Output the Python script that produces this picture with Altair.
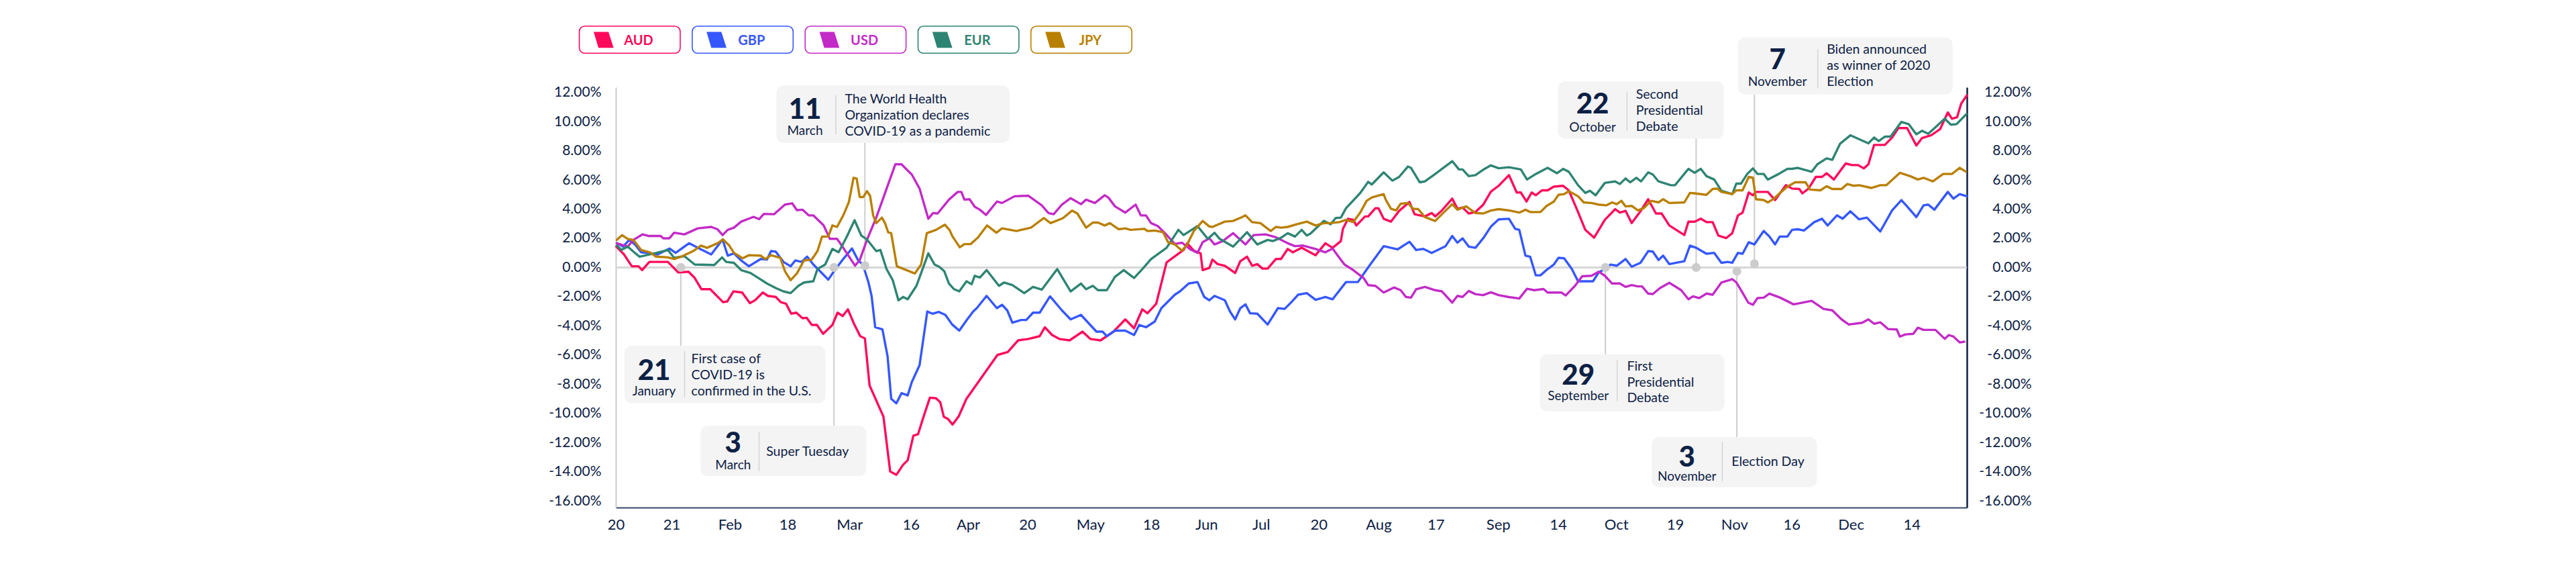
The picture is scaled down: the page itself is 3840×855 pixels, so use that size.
import json
import altair as alt
import pandas as pd

# ------------------------------------------------------------------ data
CURRENCIES = ["AUD", "GBP", "USD", "EUR", "JPY"]
COLORS = ["#ff0a5a", "#3557ff", "#c32ac7", "#2e8473", "#b97f00"]

# (trading-day index in 2020, cumulative % change)
AUD = [(0.1,1.43),(1.6,0.89),(3.1,0.08),(4.4,0.08),(5.1,-0.18),(6.5,0.38),(10.1,0.38),(12.1,-0.34),(14.1,-0.29),(15.3,-0.72),(16.6,-1.49),(18.3,-1.49),(20.8,-2.38),(21.6,-2.33),(22.8,-1.64),(24.5,-1.72),(26.0,-2.44),(27.0,-2.25),(28.5,-1.72),(29.5,-1.95),(31.0,-2.02),(32.0,-2.38),(33.0,-2.48),(34.0,-3.17),(35.0,-3.1),(36.2,-3.48),(37.0,-3.45),(38.0,-3.94),(39.0,-3.94),(40.2,-4.55),(42.0,-3.94),(43.0,-3.1),(44.0,-3.33),(45.0,-2.87),(46.2,-3.87),(47.4,-4.71),(48.3,-4.86),(49.2,-8.08),(51.9,-10.23),(53.2,-13.99),(54.4,-14.22),(55.7,-13.53),(56.6,-13.22),(57.7,-11.53),(58.6,-11.44),(59.6,-10.31),(60.9,-8.93),(62.1,-8.97),(62.9,-9.23),(63.6,-10.23),(64.4,-10.38),(65.3,-10.77),(66.5,-10.2),(68,-9.0),(70,-8.0),(72,-7.0),(74,-6.0),(76,-5.8),(78,-5.0),(80,-4.9),(82.2,-4.71),(83.2,-4.1),(84.6,-4.63),(86,-4.9),(88,-5.0),(90.5,-4.4),(92,-4.9),(94,-5.0),(96.5,-4.4),(98.8,-3.56),(100.5,-4.17),(102.1,-2.87),(103.1,-3.14),(104.8,-2.48),(106.8,0.35),(109.1,0.94),(110.1,1.2),(110.8,1.66),(112.1,1.15),(113.4,0.97),(113.8,-0.18),(115.1,-0.03),(115.7,0.54),(116.7,0.23),(118.1,0.12),(120.1,-0.38),(121.1,0.43),(122.4,0.74),(123.4,0.12),(124.4,0.23),(125.4,-0.08),(126.4,-0.08),(128.0,0.58),(129.0,0.58),(130.3,1.27),(131.3,1.04),(133.0,1.35),(135.7,0.84),(137.6,1.66),(139.0,1.35),(140.6,1.81),(141.0,2.65),(142.0,3.34),(143.0,3.27),(143.6,2.88),(145.3,3.5),(145.9,3.5),(147.3,4.06),(147.9,4.06),(148.9,3.34),(150.3,3.14),(151.9,3.88),(153.9,4.49),(154.9,3.65),(156.9,3.5),(158.2,3.73),(158.9,3.5),(160.2,3.91),(162.2,4.72),(163.2,4.03),(164.2,4.11),(165.4,3.7),(166.7,3.8),(168.2,4.3),(169.7,5.2),(171.2,5.6),(173.2,6.33),(174.7,5.14),(175.5,5.14),(176.6,4.52),(177.6,5.14),(178.4,4.95),(179.6,5.29),(180.7,5.29),(181.9,5.54),(183.7,5.6),(184.8,5.29),(186.6,3.8),(188.0,2.58),(189.7,2.04),(191.8,3.27),(193.8,4.0),(194.7,3.76),(195.8,3.88),(197.0,3.04),(198.7,3.85),(200.2,4.68),(201.7,3.7),(202.8,3.7),(204.3,2.88),(207.2,2.22),(208.0,3.14),(209.2,3.14),(210.4,3.34),(211.5,3.11),(212.7,3.11),(213.8,2.19),(215.3,2.01),(216.5,2.35),(217.6,3.57),(218.5,3.76),(219.7,5.14),(220.5,4.95),(221.1,5.18),(223.4,5.18),(224.8,4.62),(226.9,5.64),(228.1,5.41),(229.5,5.38),(230.1,5.08),(231.3,5.41),(232.7,6.21),(233.9,6.21),(234.8,6.46),(236.2,6.03),(238.5,7.13),(239.7,7.02),(240.9,7.02),(242.0,6.79),(242.9,7.07),(244.0,8.4),(246.1,8.4),(247.5,8.91),(248.7,9.56),(250.4,9.56),(252.2,8.36),(253.3,8.87),(255.1,9.07),(256.8,9.48),(258.3,10.63),(259.1,10.2),(260.1,10.3),(260.9,11.24),(262.0,11.8)]

GBP = [(0.2,1.66),(1.4,1.43),(2.6,1.89),(3.7,1.58),(4.9,1.04),(6.9,0.97),(8.1,0.89),(10.4,1.3),(11.6,1.0),(14.2,1.66),(16.2,1.3),(18.5,0.89),(20.7,1.92),(21.7,0.81),(22.9,0.97),(24.3,0.48),(25.8,0.08),(28.1,0.58),(29.3,0.54),(30.1,1.12),(31.0,1.09),(32.5,0.38),(33.9,0.08),(34.8,0.48),(36.0,0.38),(37.1,0.74),(38.3,0.2),(39.7,-0.29),(41.2,-0.84),(42.3,-0.26),(44.1,0.58),(45.8,1.3),(47.0,0.48),(47.9,0.2),(49.0,-1.03),(49.6,-1.95),(50.3,-4.1),(51.7,-4.25),(52.7,-6.09),(53.4,-9.0),(54.4,-9.31),(55.4,-8.62),(56.6,-8.77),(57.4,-7.85),(58.9,-6.7),(60.4,-3.02),(61.4,-3.17),(62.6,-3.05),(63.9,-3.25),(65.2,-3.9),(66.6,-4.33),(68.0,-3.63),(69.3,-3.02),(70.0,-2.79),(71.9,-1.95),(73.9,-2.79),(74.9,-2.56),(75.9,-2.94),(76.9,-3.79),(78.6,-3.6),(79.6,-3.6),(80.9,-3.1),(82.2,-3.1),(84.2,-1.98),(86.5,-2.94),(88.2,-3.56),(90.2,-3.25),(93.2,-4.4),(94.4,-4.4),(95.2,-4.71),(96.8,-4.33),(98.8,-4.33),(100.5,-4.63),(101.5,-3.94),(102.8,-4.1),(104.5,-3.71),(105.8,-2.79),(108.4,-1.87),(109.4,-1.64),(111.1,-1.1),(112.8,-1.0),(114.1,-2.02),(115.1,-2.25),(116.1,-1.95),(118.1,-2.25),(119.1,-3.02),(120.1,-3.56),(121.1,-2.79),(122.1,-2.53),(123.0,-3.14),(124.4,-3.17),(126.4,-3.91),(128.4,-2.79),(129.7,-2.84),(131.0,-2.38),(132.3,-1.87),(134.0,-1.76),(135.7,-2.22),(137.6,-2.02),(139.0,-2.18),(141.6,-1.0),(143.9,-1.0),(146.3,0.2),(148.9,1.46),(151.6,1.24),(153.9,1.76),(155.2,1.2),(156.6,1.27),(158.2,1.0),(160.9,1.46),(162.2,2.16),(163.2,1.7),(164.2,2.0),(165.4,1.43),(166.7,1.35),(168.2,2.0),(169.7,2.8),(171.2,3.3),(173.2,3.34),(174.4,2.65),(175.2,2.58),(176.4,0.81),(177.3,0.74),(178.4,-0.54),(179.3,-0.54),(180.7,-0.11),(181.9,0.2),(182.8,0.66),(183.9,0.63),(185.4,-0.11),(186.6,-0.95),(188.6,-0.95),(189.5,-0.95),(190.6,-0.34),(191.8,-0.11),(192.9,0.2),(194.1,0.12),(195.8,0.58),(197.0,0.05),(198.7,0.32),(200.2,1.12),(201.1,1.09),(202.2,0.51),(203.1,0.81),(204.3,0.23),(207.2,0.43),(208.3,1.5),(209.5,1.35),(211.5,0.94),(213.0,1.0),(214.4,0.32),(215.6,0.38),(216.5,0.32),(217.6,1.0),(218.5,0.94),(219.7,1.73),(220.8,1.58),(222.6,2.5),(223.7,2.12),(224.8,1.58),(225.7,2.12),(227.2,2.12),(228.1,2.58),(229.2,2.62),(230.4,2.53),(232.4,3.11),(233.9,3.34),(235.0,2.88),(236.8,3.57),(237.9,3.34),(239.4,3.85),(241.1,3.3),(242.6,3.42),(245.2,2.47),(247.5,3.91),(249.3,4.62),(250.4,4.19),(252.2,3.45),(253.6,4.26),(254.5,4.31),(255.7,3.96),(258.3,5.18),(259.4,4.72),(260.6,5.03),(262.0,4.88)]

USD = [(0.2,1.66),(2.3,1.43),(3.4,1.89),(5.2,2.27),(6.3,2.16),(8.7,2.16),(9.2,2.0),(10.4,2.0),(11.3,2.38),(13.3,2.27),(15.9,2.68),(18.5,2.78),(19.7,2.62),(20.7,2.22),(21.7,2.58),(22.9,2.73),(24.3,3.14),(26.7,3.47),(27.8,3.31),(28.7,3.67),(30.7,3.65),(32.8,4.31),(34.2,4.40),(35.1,3.93),(36.2,3.96),(37.4,3.57),(38.3,3.57),(40.3,2.88),(41.5,1.96),(42.9,1.96),(44.1,1.35),(46.4,0.12),(47.3,0.51),(48.7,1.89),(50.5,3.42),(54.2,7.07),(55.4,7.07),(57.4,6.37),(58.9,5.41),(60.6,3.34),(61.5,3.73),(62.4,3.70),(64.6,4.65),(66.3,5.18),(67.0,5.18),(67.6,4.65),(68.6,4.68),(69.6,4.16),(70.6,3.96),(71.8,3.6),(73.9,4.52),(74.9,4.42),(77.3,4.88),(80.0,4.92),(82.6,4.26),(83.9,3.73),(84.9,3.65),(86.5,4.31),(88.2,4.75),(90.2,4.34),(91.2,4.65),(92.9,4.42),(94.8,4.95),(95.5,4.8),(96.8,4.19),(98.8,3.76),(100.8,4.31),(101.8,3.57),(102.8,3.57),(103.8,3.04),(105.1,2.84),(106.5,2.35),(108.4,1.61),(109.8,1.7),(111.4,1.24),(112.8,1.0),(113.8,1.73),(115.1,2.0),(116.1,1.58),(117.7,1.81),(119.7,2.35),(122.1,1.58),(123.7,2.22),(126.0,2.27),(128.0,2.07),(130.3,1.66),(131.7,1.46),(133.3,1.5),(135.7,1.27),(137.6,1.04),(139.0,1.3),(140.0,0.81),(141.3,0.2),(143.0,-0.18),(145.0,-0.72),(145.9,-1.21),(147.3,-1.26),(148.9,-1.72),(150.9,-1.37),(152.2,-1.56),(153.2,-2.02),(154.2,-2.07),(155.2,-1.49),(156.9,-1.33),(158.9,-1.56),(160.2,-1.64),(162.2,-2.41),(163.2,-1.95),(164.2,-2.02),(165.4,-1.61),(166.7,-1.83),(168.2,-1.9),(169.7,-1.7),(171.2,-1.9),(173.2,-2.03),(175.2,-2.13),(176.7,-1.46),(178.1,-1.56),(179.9,-1.48),(180.7,-1.72),(183.4,-1.72),(184.2,-1.92),(186.0,-1.26),(187.4,-0.6),(189.2,-0.57),(190.6,-0.29),(191.8,-0.57),(193.2,-1.1),(194.7,-1.1),(195.8,-1.33),(197.0,-1.21),(198.2,-1.3),(199.0,-1.3),(200.2,-1.79),(201.1,-1.82),(202.5,-1.41),(204.3,-1.05),(206.6,-1.56),(208.0,-2.18),(208.9,-1.98),(210.1,-2.1),(211.5,-1.79),(212.7,-1.87),(214.4,-1.03),(216.5,-0.8),(217.3,-1.03),(218.2,-1.55),(219.6,-2.41),(220.5,-2.56),(221.4,-2.1),(222.6,-2.07),(223.7,-1.79),(225.8,-2.07),(228.4,-2.53),(231.9,-2.29),(234.2,-2.84),(235.9,-2.94),(237.7,-3.56),(239.1,-3.91),(241.7,-3.79),(242.9,-3.56),(244.0,-3.86),(245.2,-3.76),(246.7,-4.22),(248.4,-4.25),(249.0,-4.74),(250.1,-4.59),(251.6,-4.55),(252.5,-4.13),(253.6,-4.28),(255.9,-4.28),(257.7,-4.89),(258.5,-4.63),(259.4,-4.74),(260.6,-5.14),(261.5,-5.09)]

EUR = [(0.2,1.5),(1.1,1.2),(2.3,1.43),(3.4,1.09),(4.6,0.74),(7.5,0.97),(10.1,1.2),(11.3,0.66),(13.3,0.78),(15.3,0.2),(19.1,0.17),(20.6,0.69),(21.4,0.38),(22.9,0.32),(24.3,-0.18),(26.1,-0.38),(27.5,-0.69),(29.3,-1.1),(31.0,-1.41),(32.5,-1.64),(33.9,-1.76),(35.4,-1.26),(36.5,-1.03),(38.3,-0.95),(39.1,-0.11),(40.6,0.2),(42.0,1.27),(43.2,1.04),(44.7,2.04),(46.3,3.24),(47.6,2.19),(48.7,1.92),(50.5,1.12),(51.3,1.2),(52.5,-0.11),(53.7,-0.87),(54.8,-2.25),(55.7,-2.02),(56.6,-2.18),(58.3,-1.26),(60.6,0.97),(61.8,0.2),(62.7,0.05),(63.7,-0.26),(64.6,-1.1),(65.6,-1.49),(66.6,-1.64),(68.0,-0.95),(69.0,-1.15),(69.6,-0.57),(70.6,-0.69),(71.9,-0.18),(74.3,-1.26),(75.3,-1.03),(76.9,-1.21),(79.2,-1.76),(80.9,-1.33),(82.6,-1.52),(85.6,-0.11),(88.2,-1.64),(90.2,-1.1),(91.2,-1.49),(92.5,-1.26),(93.5,-1.56),(95.2,-1.56),(96.8,-0.64),(98.5,-0.18),(100.5,-0.72),(102.1,-0.11),(103.8,0.58),(106.8,1.35),(109.1,2.58),(110.1,2.22),(112.8,2.84),(114.8,1.96),(116.1,2.38),(117.1,1.96),(119.7,1.43),(122.4,2.42),(124.4,1.58),(126.4,1.89),(127.4,1.81),(129.0,2.04),(130.3,2.35),(131.7,2.12),(133.0,2.58),(134.0,2.19),(134.7,2.32),(137.3,3.19),(138.6,2.96),(139.6,3.39),(140.6,3.42),(141.6,4.06),(144.3,5.08),(145.9,5.87),(146.6,5.69),(148.9,6.52),(150.6,5.95),(151.9,6.21),(153.6,6.92),(154.2,6.83),(155.9,5.84),(156.9,5.9),(158.9,6.41),(162.2,7.29),(163.5,6.72),(164.2,6.72),(165.4,6.26),(166.7,6.33),(168.2,6.7),(169.7,7.0),(171.2,6.8),(173.2,6.87),(175.5,6.72),(176.7,6.03),(178.4,6.41),(180.7,6.83),(182.5,6.46),(183.7,6.76),(184.8,6.56),(186.6,5.64),(188.0,5.11),(188.9,5.26),(190.0,4.95),(191.8,5.8),(193.8,5.9),(194.7,5.72),(195.8,6.1),(196.7,5.84),(197.9,6.15),(198.8,5.9),(200.2,6.52),(201.1,6.37),(202.2,5.9),(204.6,5.64),(205.4,5.64),(208.0,6.76),(209.2,6.49),(210.4,6.76),(211.5,6.26),(213.0,6.03),(214.4,5.26),(216.5,5.03),(217.3,5.75),(218.2,5.75),(219.4,6.41),(220.5,6.79),(221.4,6.41),(222.6,6.41),(223.4,6.03),(225.5,6.41),(227.2,6.76),(228.1,6.76),(229.2,6.83),(231.9,6.56),(233.0,7.07),(234.8,7.48),(235.9,7.38),(237.4,8.48),(239.4,9.06),(242.9,8.51),(244.0,8.91),(244.9,8.67),(246.1,8.97),(247.2,8.97),(249.3,9.98),(250.7,9.83),(252.2,9.13),(253.3,9.37),(254.5,9.17),(256.2,9.71),(257.7,10.2),(258.9,9.79),(260.0,9.83),(261.9,10.51)]

JPY = [(0.2,1.89),(1.2,2.22),(2.3,1.96),(3.4,1.89),(4.9,1.2),(6.6,1.04),(7.8,0.74),(10.1,0.69),(11.3,0.58),(12.7,0.74),(15.0,1.12),(16.5,1.5),(17.7,1.35),(19.7,1.66),(20.8,1.92),(22.0,1.5),(22.9,1.0),(24.6,0.63),(25.8,0.84),(28.1,0.81),(29.0,0.58),(30.1,0.84),(31.9,0.66),(32.8,-0.26),(33.9,-0.87),(35.1,-0.41),(36.5,0.48),(38.0,0.54),(39.1,1.12),(40.0,2.12),(41.2,2.12),(42.0,2.88),(42.9,2.78),(44.1,3.57),(45.2,4.49),(46.1,6.15),(46.7,6.10),(47.3,4.83),(48.0,4.83),(48.7,5.23),(49.3,4.92),(49.9,3.57),(50.5,3.04),(51.6,3.42),(52.2,3.04),(52.8,2.42),(53.4,2.35),(54.5,0.08),(58.0,-0.41),(59.2,0.2),(60.3,2.35),(62.1,2.58),(63.8,2.93),(64.7,2.58),(65.3,2.12),(66.7,1.38),(67.6,1.6),(68.8,1.6),(70.2,2.04),(72.0,2.88),(73.8,2.38),(74.9,2.68),(77.7,2.5),(80.5,2.73),(83.0,3.39),(84.3,3.04),(86.7,3.38),(88.5,3.9),(89.5,3.7),(91.2,2.73),(92.5,3.08),(93.5,3.08),(94.8,2.88),(95.8,3.04),(97.5,2.62),(98.8,2.68),(99.8,2.58),(102.5,2.65),(103.1,2.5),(104.5,2.53),(106.1,2.42),(107.1,1.73),(108.4,1.58),(109.8,1.15),(110.8,1.58),(112.1,2.5),(113.8,3.19),(115.1,2.81),(115.7,2.78),(118.1,3.14),(119.7,3.19),(121.4,3.45),(122.1,3.57),(123.4,3.11),(125.0,3.04),(127.0,2.5),(128.0,2.78),(129.0,2.73),(130.3,2.78),(132.0,2.96),(134.0,3.14),(135.7,2.88),(137.3,3.04),(138.6,3.04),(140.3,3.11),(141.6,3.27),(143.0,3.11),(144.3,3.73),(145.6,4.57),(146.6,4.8),(148.9,5.03),(149.3,4.65),(150.3,4.03),(151.3,3.91),(152.2,4.37),(153.6,4.42),(154.6,4.03),(155.6,4.0),(156.9,3.45),(158.9,3.19),(160.2,3.65),(162.2,4.34),(163.2,3.96),(164.9,4.19),(166.7,3.73),(168.2,3.7),(169.7,3.9),(171.2,4.0),(173.2,3.91),(175.2,3.76),(176.4,3.96),(177.3,3.8),(179.3,3.8),(180.5,4.22),(181.9,4.52),(182.8,4.98),(183.9,5.03),(184.8,5.23),(186.6,4.88),(187.7,4.46),(189.2,4.42),(190.6,4.31),(192.1,4.26),(193.2,4.46),(194.1,4.34),(195.0,4.57),(195.8,4.19),(197.0,4.22),(198.2,3.91),(199.3,4.06),(200.8,4.57),(202.2,4.46),(203.1,4.68),(204.3,4.42),(207.2,4.46),(208.3,5.11),(209.2,5.08),(211.5,4.98),(212.7,5.38),(213.6,5.41),(214.4,5.18),(216.5,5.03),(217.3,5.29),(218.5,5.29),(219.7,6.21),(220.5,6.15),(221.1,4.68),(222.6,4.62),(223.4,4.46),(224.6,4.72),(226.0,5.18),(227.2,5.54),(228.7,5.84),(230.7,5.84),(231.6,5.34),(233.6,5.29),(234.8,5.57),(235.9,5.38),(237.7,5.38),(238.8,5.72),(240.0,5.6),(241.1,5.64),(243.5,5.45),(245.2,5.64),(246.4,5.64),(249.0,6.49),(251.0,6.26),(252.5,6.03),(253.6,6.15),(255.4,5.9),(257.4,6.41),(259.1,6.41),(260.6,6.83),(261.8,6.57)]

SERIES = {"AUD": AUD, "GBP": GBP, "USD": USD, "EUR": EUR, "JPY": JPY}

X_TICK_DAY = [0, 10.8, 22.1, 33.3, 45.3, 57.2, 68.3, 79.8, 92.0, 103.8, 114.5, 125.1,
              136.3, 147.9, 159.0, 171.1, 182.7, 194.0, 205.4, 216.9, 228.0, 239.5, 251.3]
X_TICK_LABEL = ["20", "21", "Feb", "18", "Mar", "16", "Apr", "20", "May", "18", "Jun", "Jul",
                "20", "Aug", "17", "Sep", "14", "Oct", "19", "Nov", "16", "Dec", "14"]
Y_TICKS = [-16, -14, -12, -10, -8, -6, -4, -2, 0, 2, 4, 6, 8, 10, 12]

EVENT_DAY = [12.6, 42.3, 48.3, 191.9, 209.5, 217.4, 220.8]
EVENT_PCT = [0, 0, 0.12, 0, 0, -0.26, 0.25]
EVENT_NUM = ["21", "3", "11", "29", "22", "3", "7"]
EVENT_MONTH = ["January", "March", "March", "September", "October", "November", "November"]
EVENT_TEXT = [
    ["First case of", "COVID-19 is", "confirmed in the U.S."],
    ["Super Tuesday"],
    ["The  World Health", "Organization declares", "COVID-19 as a pandemic"],
    ["First", "Presidential", "Debate"],
    ["Second", "Presidential", "Debate"],
    ["Election Day"],
    ["Biden announced", "as winner of 2020", "Election"],
]

# ------------------------------------------------------------------ layout (pixels)
PLOT_X0, PLOT_Y0, PLOT_W, PLOT_H = 918, 130, 2014, 626
TOTAL_W, TOTAL_H = 3840, 855
DAY_MAX = 262
PCT_TOP, PCT_BOT = 12.354, -16.46

def day_at(px):
    return (px - PLOT_X0) * DAY_MAX / PLOT_W

def pct_at(py):
    return PCT_TOP - (py - PLOT_Y0) * (PCT_TOP - PCT_BOT) / PLOT_H

# box: left, top, right, bottom, number centre x, number baseline, month baseline,
#      divider x, divider top, divider bottom, text x, text baselines, connector end y
BOXES = [
    (931, 515, 1230.6, 600.7, 975, 565.5, 589.3, 1020.5, 523, 592, 1030.5, [540.7, 565, 588.8], 515),
    (1044.2, 634.3, 1291.5, 709.3, 1092.8, 674, 699.3, 1131.5, 643, 702, 1142.2, [679.3], 634.3),
    (1157.5, 127.3, 1505, 212.7, 1200, 176.5, 200.5, 1246, 141.7, 200, 1259.4, [154, 178.3, 202], 212.7),
    (2295.5, 527.7, 2570.5, 612.7, 2352.7, 573, 596, 2410.7, 536.7, 597, 2425.4, [551.7, 575.5, 599], 527.7),
    (2322.3, 121, 2569.6, 206.7, 2374, 169, 195.7, 2425.4, 136.7, 195, 2438.8, [146.7, 171, 195], 206.7),
    (2462, 651, 2708.5, 725.7, 2514.7, 694.5, 716, 2567.4, 658, 716.7, 2581.3, [694.3], 651),
    (2590.6, 55.7, 2910.7, 140.7, 2649.6, 103, 128.3, 2709.8, 73, 131.7, 2723.2, [80, 104, 128.3], 140.7),
]

LEG_LEFT0, LEG_STEP, LEG_W, LEG_TOP, LEG_BOTTOM = 863.6, 168.3, 150.4, 39, 79.3

NAVY = "#0d2145"
FONT = "Lato"

# ------------------------------------------------------------------ tables
lines_df = pd.DataFrame(
    [dict(cur=c, day=d, pct=p) for c in CURRENCIES for d, p in SERIES[c]]
)

ev_rows, box_rows, num_rows, mon_rows, div_rows, txt_rows = [], [], [], [], [], []
for k, (l, t, r, b, ncx, nby, mby, dvx, dvt, dvb, tx, tys, endy) in enumerate(BOXES):
    ev_rows.append(dict(day=EVENT_DAY[k], pct=EVENT_PCT[k], pct2=pct_at(endy)))
    box_rows.append(dict(x=day_at(l), x2=day_at(r), y=pct_at(t), y2=pct_at(b)))
    num_rows.append(dict(x=day_at(ncx), y=pct_at(nby), t=EVENT_NUM[k]))
    mon_rows.append(dict(x=day_at(ncx), y=pct_at(mby), t=EVENT_MONTH[k]))
    div_rows.append(dict(x=day_at(dvx), y=pct_at(dvt), y2=pct_at(dvb)))
    for line, ty in zip(EVENT_TEXT[k], tys):
        txt_rows.append(dict(x=day_at(tx), y=pct_at(ty), t=line))

ev_df = pd.DataFrame(ev_rows)
box_df = pd.DataFrame(box_rows)
num_df = pd.DataFrame(num_rows)
mon_df = pd.DataFrame(mon_rows)
div_df = pd.DataFrame(div_rows)
txt_df = pd.DataFrame(txt_rows)

leg_rows = []
for k, c in enumerate(CURRENCIES):
    left = LEG_LEFT0 + k * LEG_STEP
    leg_rows.append(dict(
        cur=c,
        x=day_at(left), x2=day_at(left + LEG_W),
        y=pct_at(LEG_TOP), y2=pct_at(LEG_BOTTOM),
        sx=day_at(left + 36.4), sy=pct_at(59.2),
        tx=day_at(left + 88.4), ty=pct_at(66.6),
    ))
leg_df = pd.DataFrame(leg_rows)

# ------------------------------------------------------------------ chart
X_SCALE = alt.Scale(domain=[0, DAY_MAX], nice=False, zero=False)
Y_SCALE = alt.Scale(domain=[PCT_BOT, PCT_TOP], nice=False, zero=False)
C_SCALE = alt.Scale(domain=CURRENCIES, range=COLORS)

x_label_expr = "{}[indexof({}, datum.value)]".format(json.dumps(X_TICK_LABEL), json.dumps(X_TICK_DAY))
y_label_expr = "(datum.value < 0 ? '-' : '') + format(abs(datum.value), '.2f') + '%'"

def xq(field):
    return alt.X(field, type="quantitative", scale=X_SCALE, axis=None)

def yq(field):
    return alt.Y(field, type="quantitative", scale=Y_SCALE, axis=None)

# ---- under the lines
zero_rule = alt.Chart(lines_df).mark_rule(color="#d6d6d6", strokeWidth=1.5).encode(
    y=alt.datum(0, scale=Y_SCALE, axis=None),
    x=alt.value(0), x2=alt.value(PLOT_W),
)
ev_lines = alt.Chart(ev_df).mark_rule(color="#cdcdcd", strokeWidth=2).encode(
    x=xq("day"), y=yq("pct"), y2="pct2"
)
under = alt.layer(zero_rule, ev_lines)

# ---- the currency lines, with the bottom and left axes
lines = alt.Chart(lines_df).mark_line(strokeWidth=3.4, strokeJoin="round", strokeCap="round").encode(
    x=alt.X("day:Q", scale=X_SCALE, axis=alt.Axis(
        values=X_TICK_DAY, labelExpr=x_label_expr, title=None, ticks=False, tickSize=0,
        grid=False, domainColor="#34496a", domainWidth=2, labelPadding=15,
        labelFontSize=22, labelFont=FONT, labelColor=NAVY, labelFlush=False,
        labelOverlap=False, labelBound=False)),
    y=alt.Y("pct:Q", scale=Y_SCALE, axis=alt.Axis(
        values=Y_TICKS, labelExpr=y_label_expr, title=None, ticks=False, tickSize=0,
        grid=False, domainColor="#cccccc", domainWidth=2, labelPadding=22,
        labelFontSize=21, labelFont=FONT, labelColor=NAVY, labelFlush=False,
        labelOverlap=False)),
    color=alt.Color("cur:N", scale=C_SCALE, legend=None),
)

# ---- above the lines: event markers, callouts and legend
dots = alt.Chart(ev_df).mark_circle(color="#cccccc", size=175, opacity=1).encode(
    x=xq("day"), y=yq("pct")
)
boxes = alt.Chart(box_df).mark_rect(fill="#f4f4f4", cornerRadius=11).encode(
    x=xq("x"), x2="x2", y=yq("y"), y2="y2"
)
dividers = alt.Chart(div_df).mark_rule(color="#d4d4d4", strokeWidth=1.5).encode(
    x=xq("x"), y=yq("y"), y2="y2"
)
nums = alt.Chart(num_df).mark_text(
    font=FONT, fontSize=42, fontWeight=900, color=NAVY, align="center", baseline="alphabetic"
).encode(x=xq("x"), y=yq("y"), text="t:N")
months = alt.Chart(mon_df).mark_text(
    font=FONT, fontSize=19, color=NAVY, align="center", baseline="alphabetic"
).encode(x=xq("x"), y=yq("y"), text="t:N")
texts = alt.Chart(txt_df).mark_text(
    font=FONT, fontSize=19.5, color=NAVY, align="left", baseline="alphabetic"
).encode(x=xq("x"), y=yq("y"), text="t:N")

leg_boxes = alt.Chart(leg_df).mark_rect(fill="white", strokeWidth=1.6, cornerRadius=8).encode(
    x=xq("x"), x2="x2", y=yq("y"), y2="y2",
    stroke=alt.Stroke("cur:N", scale=C_SCALE, legend=None),
)
SWATCH = "M -1 -0.78 L 0.47 -0.78 L 0.98 0.8 L -0.53 0.8 Z"
leg_swatch = alt.Chart(leg_df).mark_point(shape=SWATCH, filled=True, size=900, opacity=1, strokeWidth=0).encode(
    x=xq("sx"), y=yq("sy"),
    color=alt.Color("cur:N", scale=C_SCALE, legend=None),
)
leg_text = alt.Chart(leg_df).mark_text(
    font=FONT, fontSize=20, fontWeight="bold", align="center", baseline="alphabetic"
).encode(
    x=xq("tx"), y=yq("ty"), text="cur:N",
    color=alt.Color("cur:N", scale=C_SCALE, legend=None),
)
over = alt.layer(dots, boxes, dividers, nums, months, texts, leg_boxes, leg_swatch, leg_text)

# ---- right-hand axis (same scale, drawn on the right)
right_axis = alt.Chart(lines_df).mark_line(opacity=0).encode(
    x=alt.X("day:Q", scale=X_SCALE, axis=None),
    y=alt.Y("pct:Q", scale=Y_SCALE, axis=alt.Axis(
        orient="right", values=Y_TICKS, labelExpr=y_label_expr, title=None, ticks=False,
        tickSize=0, grid=False, domainColor=NAVY, domainWidth=2.5, labelPadding=96,
        labelAlign="right", labelFontSize=21, labelFont=FONT, labelColor=NAVY,
        labelFlush=False, labelOverlap=False)),
    detail="cur:N",
)

chart = alt.layer(under, lines, over, right_axis).resolve_scale(
    y="independent"
).resolve_axis(
    x="independent", y="independent"
).properties(
    width=PLOT_W,
    height=PLOT_H,
    autosize="none",
    padding={"left": PLOT_X0, "top": PLOT_Y0,
             "right": TOTAL_W - PLOT_X0 - PLOT_W, "bottom": TOTAL_H - PLOT_Y0 - PLOT_H},
    background="white",
).configure_view(stroke=None)

chart.save("out.html", embed_options={"renderer": "svg", "actions": False})
